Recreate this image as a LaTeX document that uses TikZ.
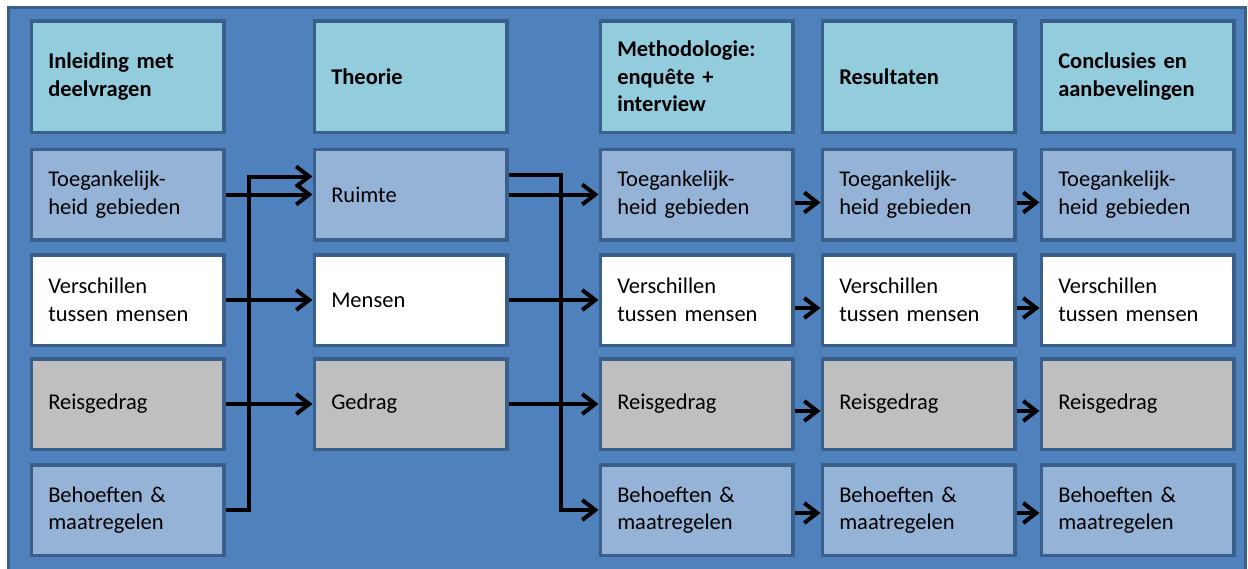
\documentclass[tikz,border=0pt]{standalone}
\usepackage{fontspec}
\setmainfont{Carlito}
\usetikzlibrary{arrows.meta}

\definecolor{panelblue}{HTML}{4F81BD}
\definecolor{edgeblue}{HTML}{3A5F8B}
\definecolor{headfill}{HTML}{93CDDD}
\definecolor{paleblue}{HTML}{95B3D7}
\definecolor{palegray}{HTML}{BFBFBF}

\tikzset{
  cell/.style={draw=edgeblue, line width=3.5pt, rectangle, anchor=center,
    minimum width=192.5pt, minimum height=90.5pt, text width=158.5pt,
    inner xsep=17pt, inner ysep=0pt, align=left,
    font=\fontsize{22.5}{27.5}\selectfont},
  headcell/.style={cell, fill=headfill, minimum height=111.5pt,
    font=\fontsize{22.5}{27.5}\selectfont\bfseries},
  bluecell/.style={cell, fill=paleblue},
  whitecell/.style={cell, fill=white},
  graycell/.style={cell, fill=palegray},
  conn/.style={line width=4pt, line join=miter,
    -{Straight Barb[length=13pt,width=20pt]}},
}

\begin{document}
\begin{tikzpicture}[x=1pt, y=-1pt]
  \useasboundingbox (0,0) rectangle (1248,568);
  \clip (0,0) rectangle (1248,568);

  % panel behind all columns
  \fill[panelblue] (8.5,7.5) rectangle (1245.5,580);
  \draw[edgeblue, line width=3pt] (8.5,7.5) rectangle (1245.5,580);

  % column 1: introduction
  \node[headcell]  (a0) at (127.5,76.5) {Inleiding met\\deelvragen};
  \node[bluecell]  (a1) at (127.5,194.5) {Toegankelijk-\\heid gebieden};
  \node[whitecell] (a2) at (127.5,300) {Verschillen\\tussen mensen};
  \node[graycell]  (a3) at (127.5,404) {Reisgedrag};
  \node[bluecell]  (a4) at (127.5,510) {Behoeften \&\\maatregelen};

  % column 2: theory
  \node[headcell]  (b0) at (410.5,76.5) {Theorie};
  \node[bluecell]  (b1) at (410.5,194.5) {Ruimte};
  \node[whitecell] (b2) at (410.5,300) {Mensen};
  \node[graycell]  (b3) at (410.5,404) {Gedrag};

  % column 3: methodology
  \node[headcell]  (c0) at (696.5,76.5) {Methodologie:\\enquête +\\interview};
  \node[bluecell]  (c1) at (696.5,194.5) {Toegankelijk-\\heid gebieden};
  \node[whitecell] (c2) at (696.5,300) {Verschillen\\tussen mensen};
  \node[graycell]  (c3) at (696.5,404) {Reisgedrag};
  \node[bluecell]  (c4) at (696.5,510) {Behoeften \&\\maatregelen};

  % column 4: results
  \node[headcell]  (d0) at (918.5,76.5) {Resultaten};
  \node[bluecell]  (d1) at (918.5,194.5) {Toegankelijk-\\heid gebieden};
  \node[whitecell] (d2) at (918.5,300) {Verschillen\\tussen mensen};
  \node[graycell]  (d3) at (918.5,404) {Reisgedrag};
  \node[bluecell]  (d4) at (918.5,510) {Behoeften \&\\maatregelen};

  % column 5: conclusions
  \node[headcell]  (e0) at (1137.5,76.5) {Conclusies en\\aanbevelingen};
  \node[bluecell]  (e1) at (1137.5,194.5) {Toegankelijk-\\heid gebieden};
  \node[whitecell] (e2) at (1137.5,300) {Verschillen\\tussen mensen};
  \node[graycell]  (e3) at (1137.5,404) {Reisgedrag};
  \node[bluecell]  (e4) at (1137.5,510) {Behoeften \&\\maatregelen};

  % vertical risers of the two junction lines
  \coordinate (j1) at (249,0);
  \coordinate (j2) at (561,0);

  % introduction -> theory
  \draw[conn] (a1.east) -- (b1.west);
  \draw[conn] (a4.east) -| (j1 |- a4.east) |- ([yshift=18pt]b1.west);
  \draw[conn] (a2.east) -- (b2.west);
  \draw[conn] (a3.east) -- (b3.west);

  % theory -> methodology
  \draw[conn] ([yshift=20pt]b1.east) -| (j2 |- c4.west) -- (c4.west);
  \draw[conn] (b1.east) -- (c1.west);
  \draw[conn] (b2.east) -- (c2.west);
  \draw[conn] (b3.east) -- (c3.west);

  % methodology -> results -> conclusions
  \foreach \r/\s in {1/-8pt, 2/-8pt, 3/-7pt, 4/-3pt}{
    \draw[conn] ([yshift=\s]c\r.east) -- ([yshift=\s]d\r.west);
    \draw[conn] ([yshift=\s]d\r.east) -- ([yshift=\s]e\r.west);
  }
\end{tikzpicture}
\end{document}
